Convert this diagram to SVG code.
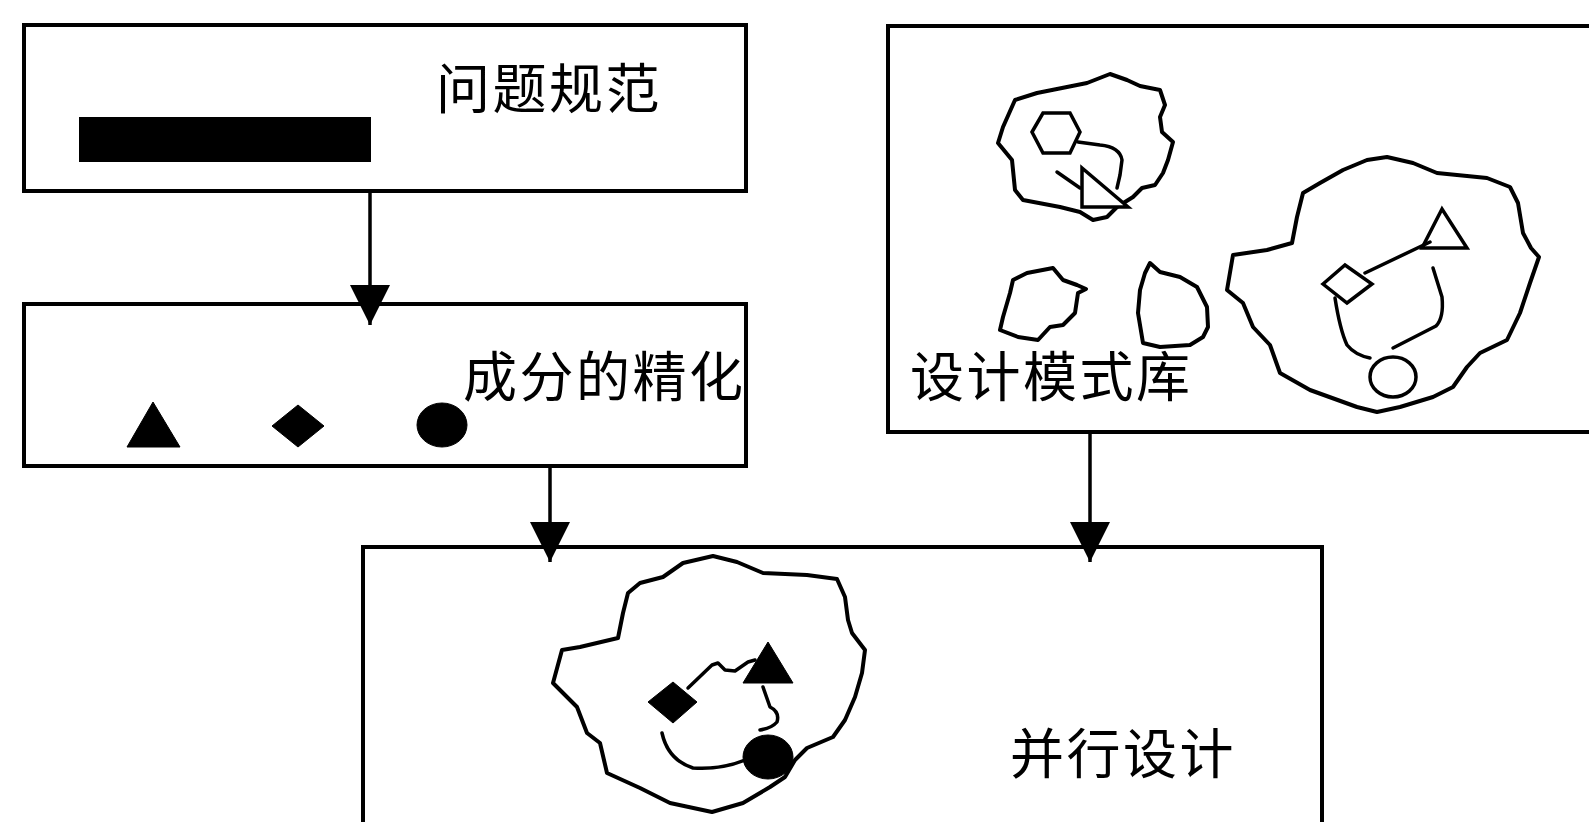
<svg xmlns="http://www.w3.org/2000/svg" width="1589" height="822" viewBox="0 0 1589 822">
<defs>
<style>
.box{fill:none;stroke:#000;stroke-width:4}
.lbl{font-family:"Noto Sans CJK SC","Liberation Sans",sans-serif;font-size:54px;letter-spacing:2.5px;fill:#000}
.blob{fill:none;stroke:#000;stroke-width:4;stroke-linejoin:round}
.ln{fill:none;stroke:#000;stroke-width:3.5;stroke-linecap:round;stroke-linejoin:round}
.ol{fill:#fff;stroke:#000;stroke-width:3.5}
.fill{fill:#000;stroke:#000;stroke-width:1}
.conn{stroke:#000;stroke-width:3.5;fill:none}
</style>
<marker id="ah" viewBox="0 0 40 40" refX="40" refY="20" markerWidth="40" markerHeight="40" markerUnits="userSpaceOnUse" orient="auto">
<path d="M0,0 L40,20 L0,40 Z" fill="#000"/>
</marker>
</defs>
<rect width="1589" height="822" fill="#fff"/>

<g id="problem-spec">
<rect class="box" x="24" y="25" width="722" height="166"/>
<text class="lbl" x="436" y="109">问题规范</text>
<rect x="79" y="117" width="292" height="45" fill="#000"/>
</g>

<g id="component-refinement">
<rect class="box" x="24" y="304" width="722" height="162"/>
<text class="lbl" x="463" y="397">成分的精化</text>
<polygon class="fill" points="153,402 127,447 180,447"/>
<polygon class="fill" points="272,426 298,405 324,426 298,447"/>
<ellipse class="fill" cx="442" cy="425" rx="25" ry="22"/>
</g>

<g id="pattern-library">
<path class="box" d="M1600,26 L888,26 L888,432 L1600,432"/>
<text class="lbl" x="910" y="397">设计模式库</text>
<path class="blob" d="M1110,74 L1127,80 L1140,86 L1160,90 L1165,105 L1160,117 L1162,132 L1173,142 L1168,160 L1163,173 L1155,185 L1142,188 L1133,197 L1117,207 L1107,217 L1093,220 L1080,212 L1060,207 L1023,200 L1015,190 L1012,160 L998,143 L1003,127 L1015,100 L1037,93 L1087,83 Z"/>
<polygon class="ol" points="1032,132 1043,113 1070,113 1080,132 1070,153 1043,153"/>
<path class="ln" d="M1078,142 L1100,145 Q1120,147 1122,160 L1120,175 L1117,188"/>
<polygon class="ol" points="1082,168 1082,207 1128,207"/>
<path class="ln" d="M1057,172 L1080,188"/>
<path class="blob" d="M1053,268 L1063,280 L1077,285 L1086,289 L1078,293 L1075,313 L1063,325 L1050,327 L1038,340 L1018,337 L1000,330 L1003,317 L1010,293 L1013,280 L1027,273 Z"/>
<path class="blob" d="M1150,263 L1160,272 L1180,277 L1197,287 L1207,307 L1208,327 L1203,337 L1190,345 L1160,347 L1143,343 L1138,313 L1140,290 L1145,273 Z"/>
<path class="blob" d="M1387,157 L1413,163 L1437,173 L1487,178 L1510,187 L1518,203 L1523,233 L1531,248 L1539,257 L1530,283 L1520,313 L1507,340 L1480,353 L1467,367 L1453,387 L1433,397 L1400,407 L1377,412 L1357,407 L1310,390 L1280,373 L1270,345 L1253,327 L1243,303 L1227,290 L1233,255 L1267,250 L1292,243 L1297,217 L1303,193 L1320,183 L1343,170 L1367,160 Z"/>
<polygon class="ol" points="1442,209 1422,248 1467,248"/>
<path class="ln" d="M1365,273 L1430,242"/>
<polygon class="ol" points="1323,284 1345,265 1372,284 1347,303"/>
<path class="ln" d="M1433,268 L1442,297 Q1444,318 1436,326 L1393,348"/>
<path class="ln" d="M1335,298 Q1340,330 1347,345 Q1355,355 1370,358"/>
<ellipse class="ol" cx="1393" cy="377" rx="23" ry="20"/>
</g>

<g id="parallel-design">
<path class="box" d="M363,830 L363,547 L1322,547 L1322,830"/>
<text class="lbl" x="1010" y="774">并行设计</text>
<path class="blob" d="M713,556 L737,562 L763,573 L807,575 L837,579 L845,597 L848,620 L852,633 L865,650 L862,673 L855,697 L845,720 L833,737 L807,748 L795,760 L785,777 L770,787 L743,803 L712,812 L670,803 L640,788 L607,773 L600,743 L587,733 L577,707 L553,683 L562,650 L580,647 L618,638 L623,613 L628,593 L640,583 L663,577 L683,563 Z"/>
<path class="ln" d="M688,688 L712,665 L718,663 L725,670 L735,671 L748,662 L755,660"/>
<path class="ln" d="M763,687 L770,707 Q780,712 777,722 Q772,728 760,730"/>
<path class="ln" d="M662,733 Q668,760 693,768 Q720,770 745,760"/>
<polygon class="fill" points="768,642 743,683 793,683"/>
<polygon class="fill" points="648,702 673,682 697,702 673,723"/>
<ellipse class="fill" cx="768" cy="757" rx="25" ry="22"/>
</g>

<g id="connectors">
<line class="conn" x1="370" y1="191" x2="370" y2="325" marker-end="url(#ah)"/>
<line class="conn" x1="550" y1="466" x2="550" y2="562" marker-end="url(#ah)"/>
<line class="conn" x1="1090" y1="432" x2="1090" y2="562" marker-end="url(#ah)"/>
</g>
</svg>
